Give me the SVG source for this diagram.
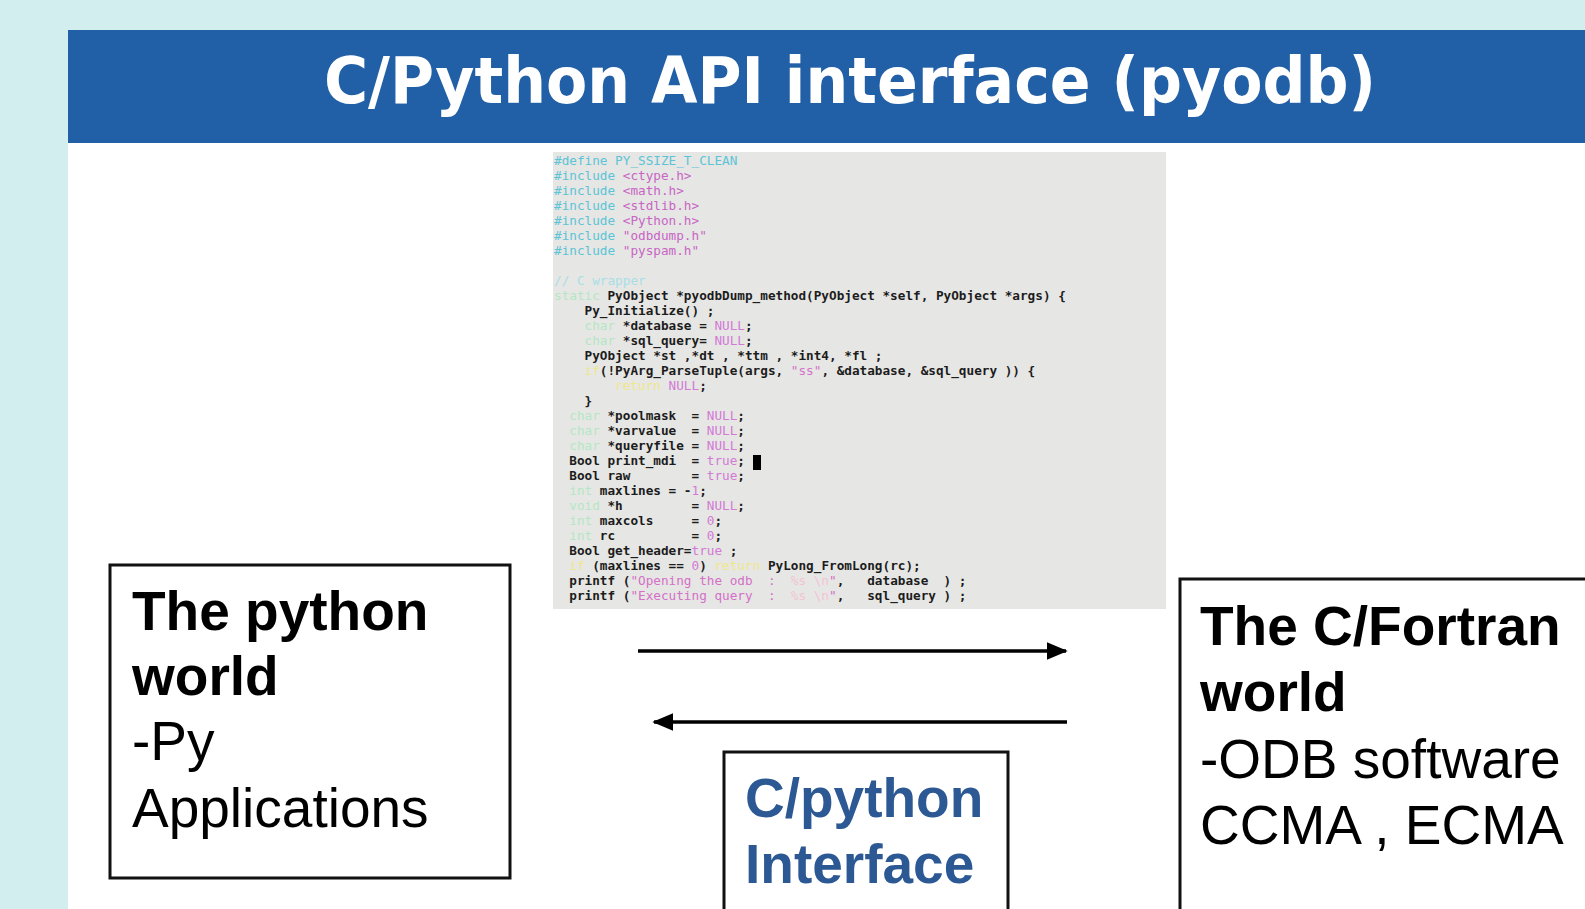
<svg xmlns="http://www.w3.org/2000/svg" width="1585" height="909" viewBox="0 0 1585 909">
<style>
.code{font-family:"DejaVu Sans Mono","Liberation Mono",monospace;font-size:12.7px;font-weight:bold;fill:#1c1c1c;white-space:pre}
.pp{fill:#5cc4d6;font-weight:normal}
.inc{fill:#c865c4;font-weight:normal}
.cm{fill:#a6dfe6;font-weight:normal}
.kw{fill:#b4e6c4;font-weight:normal}
.ct{fill:#efe78c;font-weight:normal}
.cn{fill:#d27ad6;font-weight:normal}
.st{fill:#d470c8;font-weight:normal}
.es{fill:#f3c4d6;font-weight:normal}
.big{font-family:"Liberation Sans",Arial,sans-serif;font-size:55px;fill:#000}
.b{font-weight:bold}
.box{fill:#fff;stroke:#111;stroke-width:3}
.conn{stroke:#000;stroke-width:3.5;fill:none}
</style>
<defs>
<marker id="ah" markerWidth="6" markerHeight="5" refX="5.5" refY="2.5" orient="auto" markerUnits="strokeWidth">
<path d="M0,0 L6,2.5 L0,5 Z" fill="#000"/>
</marker>
</defs>
<rect x="0" y="0" width="1585" height="909" fill="#d2eeee"/>
<rect x="68" y="143" width="1517" height="766" fill="#fff"/>
<g id="header">
<rect x="68" y="30" width="1517" height="113" fill="#215fa6"/>
<text x="850" y="103" text-anchor="middle" font-family="DejaVu Sans,sans-serif" font-weight="bold" font-size="64" fill="#fff" textLength="1052" lengthAdjust="spacingAndGlyphs">C/Python API interface (pyodb)</text>
</g>
<g id="code">
<rect x="553" y="152" width="613" height="457" fill="#e6e6e4"/>
<text class="code" xml:space="preserve">
<tspan x="554" y="165" class="pp">#define PY_SSIZE_T_CLEAN</tspan>
<tspan x="554" y="180"><tspan class="pp">#include </tspan><tspan class="inc">&lt;ctype.h&gt;</tspan></tspan>
<tspan x="554" y="195"><tspan class="pp">#include </tspan><tspan class="inc">&lt;math.h&gt;</tspan></tspan>
<tspan x="554" y="210"><tspan class="pp">#include </tspan><tspan class="inc">&lt;stdlib.h&gt;</tspan></tspan>
<tspan x="554" y="225"><tspan class="pp">#include </tspan><tspan class="inc">&lt;Python.h&gt;</tspan></tspan>
<tspan x="554" y="240"><tspan class="pp">#include </tspan><tspan class="inc">"odbdump.h"</tspan></tspan>
<tspan x="554" y="255"><tspan class="pp">#include </tspan><tspan class="inc">"pyspam.h"</tspan></tspan>
<tspan x="554" y="285" class="cm">// C wrapper</tspan>
<tspan x="554" y="300"><tspan class="kw">static</tspan> PyObject *pyodbDump_method(PyObject *self, PyObject *args) {</tspan>
<tspan x="554" y="315">    Py_Initialize() ;</tspan>
<tspan x="554" y="330">    <tspan class="kw">char</tspan> *database = <tspan class="cn">NULL</tspan>;</tspan>
<tspan x="554" y="345">    <tspan class="kw">char</tspan> *sql_query= <tspan class="cn">NULL</tspan>;</tspan>
<tspan x="554" y="360">    PyObject *st ,*dt , *ttm , *int4, *fl ;</tspan>
<tspan x="554" y="375">    <tspan class="ct">if</tspan>(!PyArg_ParseTuple(args, <tspan class="st">"ss"</tspan>, &amp;database, &amp;sql_query )) {</tspan>
<tspan x="554" y="390">        <tspan class="ct">return</tspan> <tspan class="cn">NULL</tspan>;</tspan>
<tspan x="554" y="405">    }</tspan>
<tspan x="554" y="420">  <tspan class="kw">char</tspan> *poolmask  = <tspan class="cn">NULL</tspan>;</tspan>
<tspan x="554" y="435">  <tspan class="kw">char</tspan> *varvalue  = <tspan class="cn">NULL</tspan>;</tspan>
<tspan x="554" y="450">  <tspan class="kw">char</tspan> *queryfile = <tspan class="cn">NULL</tspan>;</tspan>
<tspan x="554" y="465">  Bool print_mdi  = <tspan class="cn">true</tspan>;</tspan>
<tspan x="554" y="480">  Bool raw        = <tspan class="cn">true</tspan>;</tspan>
<tspan x="554" y="495">  <tspan class="kw">int</tspan> maxlines = -<tspan class="cn">1</tspan>;</tspan>
<tspan x="554" y="510">  <tspan class="kw">void</tspan> *h         = <tspan class="cn">NULL</tspan>;</tspan>
<tspan x="554" y="525">  <tspan class="kw">int</tspan> maxcols     = <tspan class="cn">0</tspan>;</tspan>
<tspan x="554" y="540">  <tspan class="kw">int</tspan> rc          = <tspan class="cn">0</tspan>;</tspan>
<tspan x="554" y="555">  Bool get_header=<tspan class="cn">true</tspan> ;</tspan>
<tspan x="554" y="570">  <tspan class="ct">if</tspan> (maxlines == <tspan class="cn">0</tspan>) <tspan class="ct">return</tspan> PyLong_FromLong(rc);</tspan>
<tspan x="554" y="585">  printf (<tspan class="st">"Opening the odb  :  </tspan><tspan class="es">%s \n</tspan><tspan class="st">"</tspan>,   database  ) ;</tspan>
<tspan x="554" y="600">  printf (<tspan class="st">"Executing query  :  </tspan><tspan class="es">%s \n</tspan><tspan class="st">"</tspan>,   sql_query ) ;</tspan>
</text>
<rect x="753" y="455" width="8" height="15" fill="#000"/>
</g>
<g id="python-world">
<rect class="box" x="110" y="565" width="400" height="313"/>
<text class="big b" x="132" y="630">The python</text>
<text class="big b" x="132" y="695">world</text>
<text class="big" x="132" y="760">-Py</text>
<text class="big" x="132" y="827">Applications</text>
</g>
<g id="c-fortran-world">
<rect class="box" x="1180" y="579" width="420" height="345"/>
<text class="big b" x="1200" y="645">The C/Fortran</text>
<text class="big b" x="1200" y="711">world</text>
<text class="big" x="1200" y="778">-ODB software</text>
<text class="big" x="1200" y="844">CCMA , ECMA</text>
</g>
<g id="cpython-interface">
<rect class="box" x="724" y="752" width="284" height="180"/>
<text class="big b" x="745" y="817" style="fill:#2c5893">C/python</text>
<text class="big b" x="745" y="883" style="fill:#2c5893">Interface</text>
</g>
<g id="connectors">
<line class="conn" x1="638" y1="651" x2="1066" y2="651" marker-end="url(#ah)"/>
<line class="conn" x1="1067" y1="722" x2="654" y2="722" marker-end="url(#ah)"/>
</g>
</svg>
